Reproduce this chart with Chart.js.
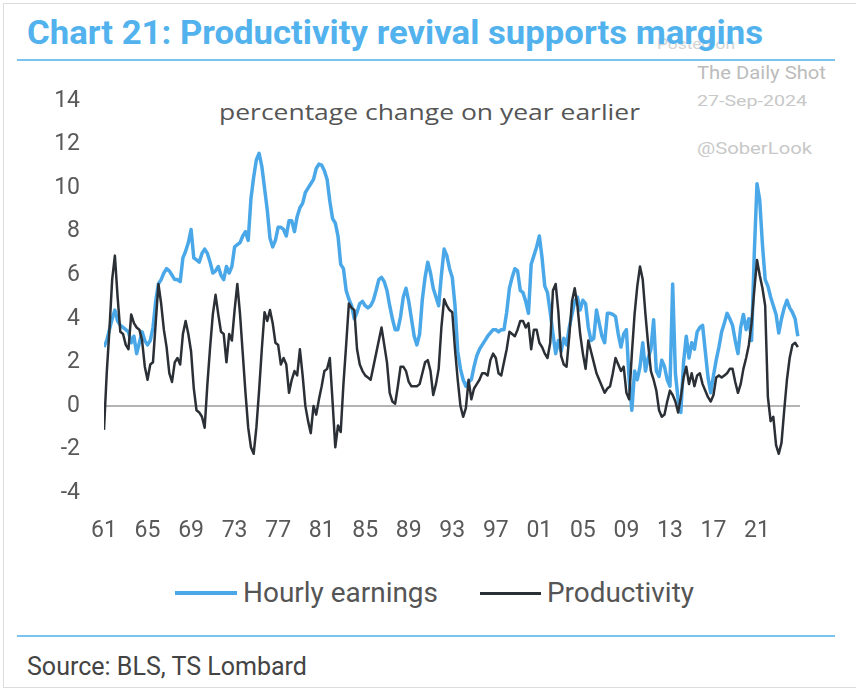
<!DOCTYPE html>
<html>
<head>
<meta charset="utf-8">
<script src="https://cdn.jsdelivr.net/npm/chart.js@4.4.1/dist/chart.umd.min.js"></script>
<style>
html,body{margin:0;padding:0;background:#fff;}
#wrap{position:relative;width:856px;height:692px;overflow:hidden;font-family:Roboto,"Liberation Sans",sans-serif;background:#fff;}
#frame{position:absolute;left:3px;top:3px;width:860px;height:685px;border:1px solid #dcdcdc;border-right:none;box-sizing:border-box;}
#c{position:absolute;left:0;top:0;}
.t{position:absolute;white-space:nowrap;line-height:1;transform-origin:0 50%;}
.rule{position:absolute;left:17px;width:818px;height:2px;background:#78c4ef;}
.wm{color:#c2c2c2;}
.sample{position:absolute;}
</style>
</head>
<body>
<div id="wrap">
  <div id="frame"></div>
  <div class="t wm" id="posted" style="left:657px;top:37px;font-size:15px;color:#d4d4d4;">Posted on</div>
  <div class="t" id="title" style="left:27px;top:15px;font-size:34px;font-weight:700;color:#52b2ed;">Chart 21: Productivity revival supports margins</div>
  <div class="rule" style="top:59px;"></div>
  <div class="t wm" id="dshot" style="left:697px;top:63px;font-size:19px;color:#bcbcbc;">The Daily Shot</div>
  <div class="t wm" id="date" style="left:697px;top:94px;font-size:14px;color:#c8c8c8;">27-Sep-2024</div>
  <div class="t wm" id="sober" style="left:697px;top:140px;font-size:17px;color:#c8c8c8;">@SoberLook</div>
  <div class="t" id="subtitle" style="left:219px;top:102px;font-size:21px;color:#555;font-family:'Open Sans',sans-serif;">percentage change on year earlier</div>
  <div class="sample" id="s1" style="left:175px;top:591px;width:62px;height:4px;"></div>
  <div class="t" id="l1" style="left:243px;top:580px;font-size:27px;color:#555;"></div>
  <div class="sample" id="s2" style="left:480px;top:592px;width:61px;height:3px;"></div>
  <div class="t" id="l2" style="left:547px;top:580px;font-size:27px;color:#555;"></div>
  <div class="rule" style="top:635px;"></div>
  <div class="t" id="source" style="left:27px;top:654px;font-size:25px;color:#444;">Source: BLS, TS Lombard</div>
  <canvas id="c" width="856" height="692"></canvas>
</div>
<script>
// ---- data (quarterly, % change on year earlier), first quarter = 1961 ----
const firstYear = 1961;
const tickYears = [1961, 1965, 1969, 1973, 1977, 1981, 1985, 1989, 1993, 1997, 2001, 2005, 2009, 2013, 2017, 2021];
const yTicks = [-4, -2, 0, 2, 4, 6, 8, 10, 12, 14];
const seriesNames = ['Hourly earnings', 'Productivity'];

const hourlyEarnings = [
  2.7, 3.0, 3.5, 4.0, 4.4, 3.9, 3.7, 3.6, 3.5, 3.4, 2.9, 3.2, 2.4, 2.9, 3.4, 3.0,
  2.8, 3.0, 3.6, 4.8, 5.6, 5.8, 6.1, 6.3, 6.2, 6.0, 5.8, 5.8, 5.7, 6.8, 7.1, 7.5,
  8.1, 6.8, 6.7, 6.6, 7.0, 7.2, 7.0, 6.6, 6.1, 6.2, 6.4, 6.0, 5.8, 6.4, 6.1, 6.4,
  7.3, 7.4, 7.5, 7.8, 8.0, 7.6, 9.5, 10.5, 11.3, 11.6, 11.0, 10.0, 9.0, 7.7, 7.3, 7.6,
  8.2, 8.2, 8.1, 7.8, 8.5, 8.5, 8.0, 8.7, 9.1, 9.3, 9.8, 10.0, 10.2, 10.4, 10.9, 11.1,
  11.05, 10.8, 10.4, 9.4, 8.6, 8.4, 7.8, 6.5, 6.3, 5.3, 4.9, 4.6, 4.0, 4.3, 4.7, 4.8,
  4.6, 4.5, 4.6, 4.85, 5.3, 5.8, 5.9, 5.7, 5.3, 4.6, 4.0, 3.5, 3.5, 4.1, 5.0, 5.4,
  4.8, 4.0, 3.2, 2.8, 3.3, 4.9, 5.9, 6.6, 6.1, 5.4, 5.0, 4.6, 6.0, 7.2, 6.9, 6.3,
  5.9, 4.6, 2.5, 1.7, 1.2, 0.9, 1.1, 1.2, 1.8, 2.3, 2.6, 2.8, 3.0, 3.2, 3.35, 3.5,
  3.5, 3.4, 3.5, 3.5, 4.3, 5.4, 5.9, 6.3, 6.2, 5.3, 5.2, 4.8, 4.25, 6.5, 6.9, 7.3,
  7.8, 6.8, 5.5, 5.2, 4.3, 3.3, 2.4, 3.0, 2.5, 3.1, 2.8, 3.6, 4.2, 4.8, 5.0, 4.4,
  4.85, 4.7, 3.6, 3.0, 3.1, 4.4, 3.8, 3.2, 2.9, 4.25, 4.25, 4.2, 4.1, 3.3, 2.7, 3.3,
  3.5, 1.2, -0.2, 1.6, 1.2, 1.8, 2.9, 1.6, 2.2, 2.6, 3.95, 1.6, 1.35, 2.1, 1.8, 1.2,
  0.9, 5.6, 1.5, 0.3, -0.3, 2.0, 3.2, 2.2, 2.9, 2.6, 3.4, 3.6, 3.7, 2.5, 1.3, 0.6,
  1.4, 2.1, 2.7, 3.4, 3.8, 4.25, 4.0, 3.7, 3.0, 2.4, 3.6, 4.2, 3.5, 4.0, 3.0, 7.0,
  10.2, 9.45, 7.4, 5.8, 5.5, 5.0, 4.6, 4.2, 3.35, 4.0, 4.5, 4.85, 4.5, 4.3, 4.0, 3.2
];

const productivity = [
  -1.1, 1.5, 3.5, 5.8, 6.9, 5.0, 3.4, 3.3, 2.8, 2.6, 4.2, 3.8, 3.6, 3.5, 3.0, 1.8,
  1.2, 1.9, 2.0, 3.8, 5.6, 4.7, 3.5, 2.7, 1.5, 1.1, 2.0, 2.2, 1.9, 3.3, 3.9, 3.3,
  2.5, 0.8, -0.2, -0.3, -0.5, -1.0, 1.0, 2.7, 4.2, 5.1, 4.2, 3.4, 3.3, 2.0, 3.3, 3.0,
  4.4, 5.6, 4.2, 2.4, 0.6, -1.0, -1.9, -2.2, -1.0, 0.7, 2.6, 4.3, 3.9, 4.4, 3.8, 2.9,
  2.8, 1.9, 2.2, 1.9, 0.6, 1.2, 1.6, 1.4, 2.6, 1.4, 0.0, -0.7, -1.25, 0.0, -0.4, 0.3,
  0.9, 1.6, 1.7, 2.2, 0.2, -1.9, -0.9, -1.2, 1.0, 2.8, 4.7, 4.5, 4.4, 2.6, 1.9, 1.6,
  1.4, 1.3, 1.2, 1.8, 2.4, 3.0, 3.6, 2.8, 2.0, 0.6, 0.2, 0.1, 0.9, 1.8, 1.8, 1.6,
  1.1, 0.9, 0.9, 0.9, 1.0, 1.5, 2.0, 2.1, 1.6, 0.5, 1.0, 1.7, 3.6, 4.9, 4.6, 4.4,
  4.3, 2.6, 1.2, 0.0, -0.5, -0.1, 1.2, 0.3, 0.8, 1.0, 1.2, 1.5, 1.5, 1.4, 2.1, 2.4,
  2.2, 1.5, 1.4, 2.0, 2.6, 3.4, 3.3, 3.2, 3.5, 3.9, 3.9, 3.6, 3.8, 2.6, 3.5, 3.5,
  2.9, 2.7, 2.4, 2.2, 2.9, 5.3, 5.6, 4.3, 2.3, 1.9, 1.8, 3.2, 4.8, 5.4, 4.6, 3.3,
  2.4, 1.7, 3.0, 2.5, 2.0, 1.5, 1.2, 0.9, 0.6, 0.8, 0.9, 1.5, 2.2, 1.9, 1.6, 1.8,
  0.6, 0.3, 2.4, 4.2, 5.5, 6.4, 5.8, 4.2, 2.8, 1.6, 1.2, 0.7, -0.2, -0.5, -0.4, 0.2,
  0.7, 0.5, 0.2, -0.3, 0.4, 1.3, 1.8, 1.0, 1.5, 0.9, 1.4, 1.5, 1.0, 0.7, 0.4, 0.2,
  0.5, 1.3, 1.4, 1.3, 1.4, 1.5, 1.7, 1.7, 1.1, 0.6, 1.0, 1.7, 2.2, 2.8, 3.8, 5.3,
  6.7, 6.0, 5.4, 4.6, 0.4, -0.7, -0.5, -1.8, -2.2, -1.7, -0.2, 1.2, 2.2, 2.8, 2.9, 2.7
];

const colors = { hourly: '#4aa8e8', prod: '#2b3036' };

function toPoints(arr) {
  return arr.map((v, i) => ({ x: firstYear + i / 4, y: v }));
}

// legend (HTML)
document.getElementById('l1').textContent = seriesNames[0];
document.getElementById('l2').textContent = seriesNames[1];
document.getElementById('s1').style.background = colors.hourly;
document.getElementById('s2').style.background = colors.prod;

function fit(id, w) {
  const el = document.getElementById(id);
  const cw = el.getBoundingClientRect().width;
  if (cw > 0) el.style.transform = 'scaleX(' + (w / cw) + ')';
}
fit('title', 736);
fit('subtitle', 421);
fit('posted', 78);
fit('dshot', 129);
fit('date', 110);
fit('sober', 115);
fit('l1', 195);
fit('l2', 147);
fit('source', 280);

const tickFont = { family: 'Roboto', size: 23 };

new Chart(document.getElementById('c').getContext('2d'), {
  type: 'line',
  data: {
    datasets: [
      { label: seriesNames[0], data: toPoints(hourlyEarnings), borderColor: colors.hourly,
        borderWidth: 3.5, pointRadius: 0, tension: 0, borderJoinStyle: 'round', order: 1 },
      { label: seriesNames[1], data: toPoints(productivity), borderColor: colors.prod,
        borderWidth: 2.5, pointRadius: 0, tension: 0, borderJoinStyle: 'round', order: 0 }
    ]
  },
  options: {
    responsive: false,
    animation: false,
    devicePixelRatio: 1,
    layout: { padding: { top: 101, right: 56, bottom: 139, left: 0 } },
    plugins: { legend: { display: false }, tooltip: { enabled: false }, title: { display: false } },
    scales: {
      x: {
        type: 'linear',
        min: 1961,
        max: 2024.95,
        grid: { display: false, drawTicks: false },
        border: { display: false },
        afterBuildTicks: s => { s.ticks = tickYears.map(v => ({ value: v })); },
        afterFit: s => { s.height = 60; },
        ticks: {
          autoSkip: false, maxRotation: 0, minRotation: 0, padding: 24,
          font: tickFont, color: '#595959',
          callback: v => String(v % 100).padStart(2, '0')
        }
      },
      y: {
        min: -4,
        max: 14,
        afterBuildTicks: s => { s.ticks = yTicks.map(v => ({ value: v })); },
        afterFit: s => { s.width = 104; },
        grid: {
          drawTicks: false,
          lineWidth: 2,
          color: c => (c.tick && c.tick.value === 0) ? '#b4b4b4' : 'rgba(0,0,0,0)'
        },
        border: { display: false },
        ticks: { padding: 24, font: tickFont, color: '#595959' }
      }
    }
  }
});
</script>
</body>
</html>
